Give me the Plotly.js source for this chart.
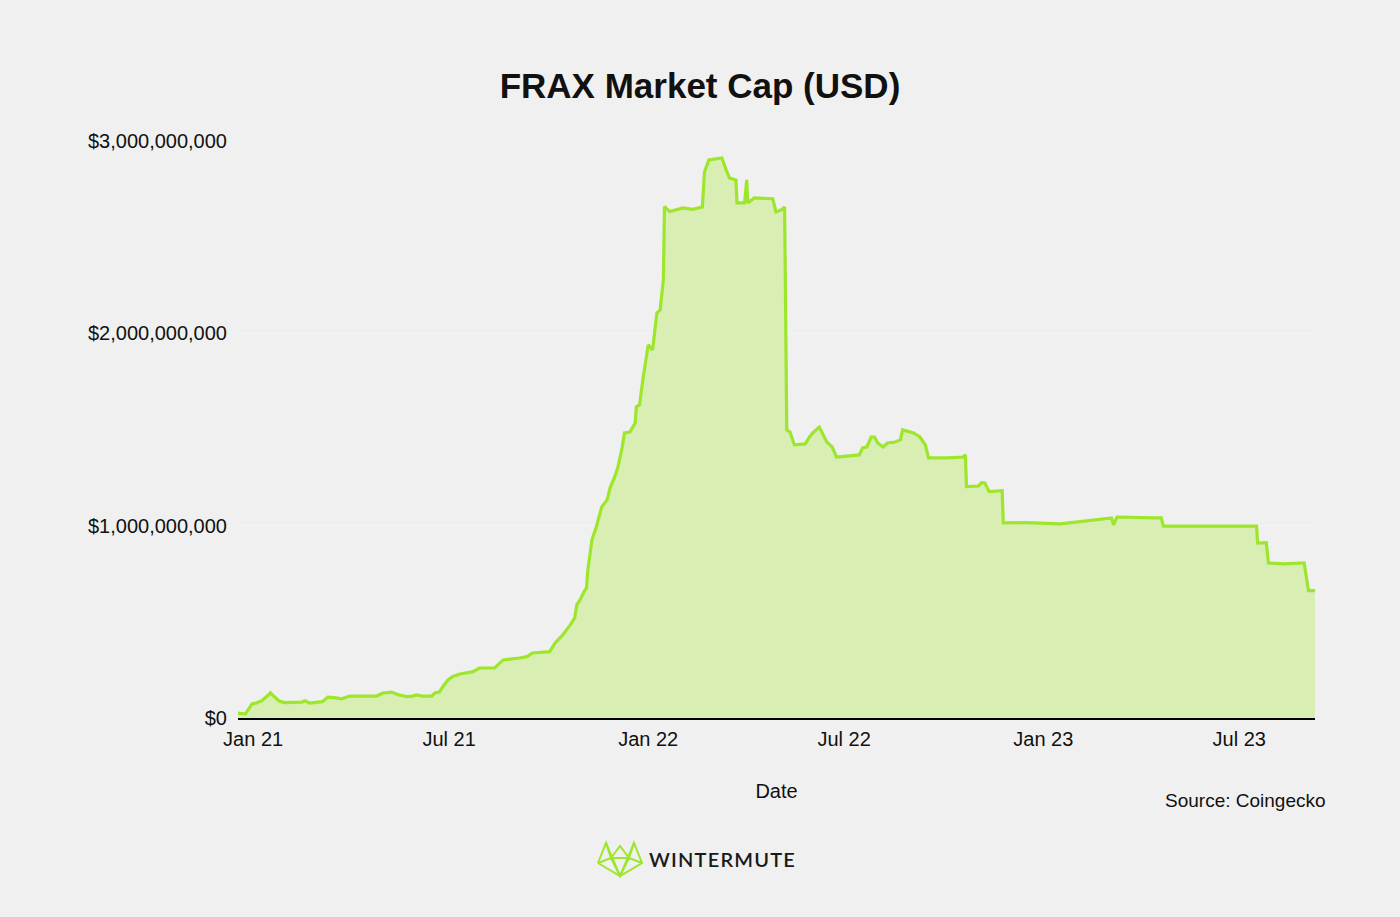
<!DOCTYPE html>
<html>
<head>
<meta charset="utf-8">
<script src="https://cdn.plot.ly/plotly-3.0.1.min.js"></script>
<style>
  html, body { margin: 0; padding: 0; background: #f0f0f0; }
  #chart { width: 1400px; height: 917px; }
</style>
</head>
<body>
<div id="chart"></div>
<script>
// ---- Data ----
const dates = [
  '2020-12-18','2020-12-25','2020-12-27','2020-12-31','2021-01-04','2021-01-09','2021-01-14','2021-01-17',
  '2021-01-21','2021-01-25','2021-01-30','2021-02-15','2021-02-18','2021-02-22','2021-03-06','2021-03-11',
  '2021-03-17','2021-03-24','2021-03-31','2021-04-25','2021-05-01','2021-05-09','2021-05-15','2021-05-23',
  '2021-05-28','2021-06-01','2021-06-06','2021-06-15','2021-06-18','2021-06-22','2021-06-25','2021-06-30',
  '2021-07-04','2021-07-11','2021-07-23','2021-07-29','2021-08-12','2021-08-20','2021-09-04','2021-09-11',
  '2021-09-16','2021-09-26','2021-10-02','2021-10-07','2021-10-14','2021-10-21','2021-10-25','2021-10-27',
  '2021-10-30','2021-11-03','2021-11-05','2021-11-06','2021-11-08','2021-11-10','2021-11-14','2021-11-19',
  '2021-11-24','2021-11-27','2021-12-01','2021-12-04','2021-12-08','2021-12-10','2021-12-15','2021-12-20',
  '2021-12-21','2021-12-24','2021-12-27','2022-01-01','2022-01-05','2022-01-09','2022-01-12','2022-01-14',
  '2022-01-15','2022-01-16','2022-01-21','2022-02-02','2022-02-11','2022-02-20','2022-02-22','2022-02-26',
  '2022-03-10','2022-03-14','2022-03-17','2022-03-23','2022-03-24','2022-03-31','2022-04-02','2022-04-03',
  '2022-04-09','2022-04-26','2022-04-29','2022-05-04','2022-05-07','2022-05-09','2022-05-12','2022-05-16',
  '2022-05-26','2022-05-30','2022-06-02','2022-06-08','2022-06-11','2022-06-15','2022-06-20','2022-06-24',
  '2022-07-15','2022-07-18','2022-07-22','2022-07-26','2022-07-29','2022-08-01','2022-08-06','2022-08-10',
  '2022-08-17','2022-08-22','2022-08-24','2022-09-03','2022-09-09','2022-09-14','2022-09-17','2022-10-04',
  '2022-10-19','2022-10-21','2022-10-22','2022-11-02','2022-11-05','2022-11-08','2022-11-12','2022-11-24',
  '2022-11-25','2022-12-16','2023-01-17','2023-02-09','2023-02-21','2023-03-05','2023-03-07','2023-03-10',
  '2023-04-14','2023-04-20','2023-04-22','2023-07-17','2023-07-18','2023-07-26','2023-07-28','2023-08-12',
  '2023-08-30','2023-09-01','2023-09-03','2023-09-09'
];
// Market cap in millions of USD
const marketCapMillions = [
  25, 20, 40, 73, 78, 90, 114, 131,
  109, 88, 80, 83, 90, 78, 85, 109,
  106, 100, 114, 114, 130, 135, 121, 111,
  114, 120, 114, 114, 131, 135, 161, 198,
  215, 229, 241, 260, 260, 302, 312, 319,
  338, 345, 345, 390, 432, 484, 520, 588,
  614, 660, 676, 760, 860, 926, 993, 1097,
  1134, 1201, 1253, 1305, 1409, 1482, 1487, 1534,
  1617, 1628, 1758, 1940, 1914, 2106, 2122, 2241,
  2280, 2659, 2633, 2652, 2645, 2657, 2840, 2902,
  2912, 2850, 2808, 2798, 2678, 2678, 2798, 2678,
  2704, 2700, 2631, 2642, 2657, 1498, 1487, 1420,
  1425, 1461, 1482, 1513, 1482, 1435, 1409, 1357,
  1368, 1404, 1409, 1461, 1461, 1430, 1409, 1430,
  1435, 1446, 1498, 1482, 1461, 1420, 1352, 1352,
  1357, 1368, 1203, 1206, 1224, 1222, 1177, 1182,
  1014, 1016, 1009, 1024, 1036, 1040, 1004, 1045,
  1040, 1040, 998, 998, 910, 912, 806, 801,
  806, 744, 662, 662
];
const xTickVals = ['2021-01-01','2021-07-01','2022-01-01','2022-07-01','2023-01-01','2023-07-01'];
const xTickText = ['Jan 21','Jul 21','Jan 22','Jul 22','Jan 23','Jul 23'];
const yTickVals = [0, 1e9, 2e9, 3e9];
const yTickText = ['$0','$1,000,000,000','$2,000,000,000','$3,000,000,000'];

// ---- Layout helpers (pixel -> paper) ----
const W = 1400, H = 917;
const M = { l: 238, r: 85, t: 141, b: 199 };
const PW = W - M.l - M.r, PH = H - M.t - M.b;
const px = x => (x - M.l) / PW;
const py = y => (H - M.b - y) / PH;

const FONT = 'Liberation Sans, Arial, Helvetica, sans-serif';

const trace = {
  type: 'scatter',
  mode: 'lines',
  x: dates,
  y: marketCapMillions.map(v => v * 1e6),
  line: { color: '#9de62c', width: 3.2, shape: 'linear' },
  fill: 'tozeroy',
  fillcolor: '#d8eeb2',
  hoverinfo: 'skip'
};

// Wintermute logo outline (decorative)
const logoPts = [
  [[598,863],[606,843],[611,858],[620,846],[629,858],[634,843],[642,863],[620,876],[598,863]],
  [[606,843],[620,876],[634,843]],
  [[598,863],[611,858],[620,876],[629,858],[642,863]],
  [[611,858],[629,858]]
];
const logoShapes = logoPts.map(pts => ({
  type: 'path', xref: 'paper', yref: 'paper',
  path: pts.map((p, i) => (i ? 'L' : 'M') + px(p[0]).toFixed(5) + ',' + py(p[1]).toFixed(5)).join(' '),
  line: { color: '#9de62c', width: 2 }
}));

const layout = {
  width: W, height: H,
  margin: M,
  paper_bgcolor: '#f0f0f0',
  plot_bgcolor: '#f0f0f0',
  showlegend: false,
  font: { family: FONT, color: '#111111', size: 20 },
  title: {
    text: '<b>FRAX Market Cap (USD)</b>',
    font: { family: FONT, size: 35, color: '#111111' },
    x: 0.5, xref: 'container', xanchor: 'center',
    y: 1 - 86 / H, yref: 'container', yanchor: 'middle'
  },
  xaxis: {
    type: 'date',
    range: [dates[0], dates[dates.length - 1]],
    tickvals: xTickVals,
    ticktext: xTickText,
    tickfont: { family: FONT, size: 20, color: '#111111' },
    showgrid: false,
    zeroline: false,
    showline: true,
    linecolor: '#000000',
    linewidth: 2,
    ticks: '',
    ticklabelstandoff: 2,
    title: { text: 'Date', font: { family: FONT, size: 20, color: '#111111' }, standoff: 35 },
    automargin: false,
    fixedrange: true
  },
  yaxis: {
    range: [0, 3e9],
    tickvals: yTickVals,
    ticktext: yTickText,
    tickfont: { family: FONT, size: 20, color: '#111111' },
    showgrid: true,
    gridcolor: '#f5f5f5',
    gridwidth: 1,
    zeroline: false,
    showline: false,
    ticks: '',
    ticklabelstandoff: 10,
    automargin: false,
    fixedrange: true
  },
  shapes: logoShapes,
  annotations: [
    {
      text: 'Source: Coingecko',
      xref: 'paper', yref: 'paper',
      x: px(1328), y: py(800),
      xanchor: 'right', yanchor: 'middle',
      showarrow: false,
      font: { family: FONT, size: 19, color: '#111111' }
    },
    {
      text: '<span style="letter-spacing:1.2px">WINTERMUTE</span>',
      xref: 'paper', yref: 'paper',
      x: px(647), y: py(859),
      xanchor: 'left', yanchor: 'middle',
      showarrow: false,
      font: { family: 'Lato, Roboto, sans-serif', size: 20, color: '#1a1a1a', weight: 600 }
    }
  ]
};

Plotly.newPlot('chart', [trace], layout, { displayModeBar: false, staticPlot: true });
</script>
</body>
</html>
